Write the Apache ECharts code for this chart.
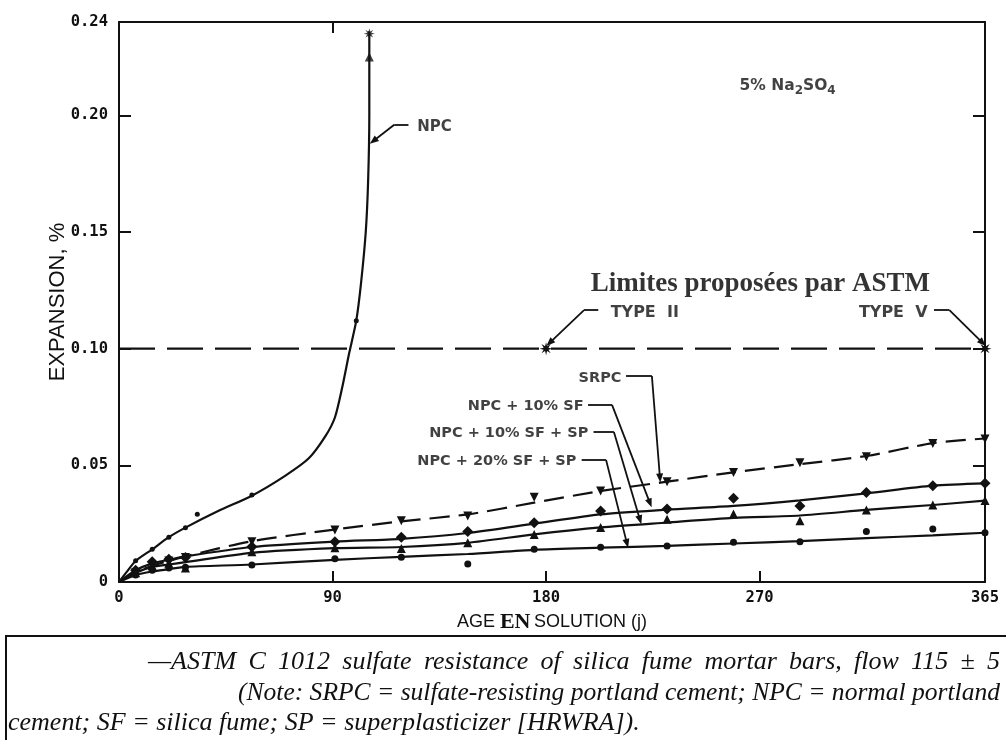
<!DOCTYPE html>
<html>
<head>
<meta charset="utf-8">
<script src="https://cdn.jsdelivr.net/npm/echarts@6/dist/echarts.min.js"></script>
<style>
  html, body { margin: 0; padding: 0; background: #ffffff; }
  #chart { width: 1006px; height: 740px; }
</style>
</head>
<body>
<div id="chart"></div>
<script>
// Age of the mortar bars in solution (days) at each reading
const days = [0, 7, 14, 21, 28, 56, 91, 119, 147, 175, 203, 231, 259, 287, 315, 343, 365];

// Measured expansion (%) at each reading
const srpcPoints      = [0, 0.004, 0.007, 0.009, 0.0105, 0.0173, 0.0223, 0.0263, 0.0283, 0.0363, 0.039, 0.043, 0.0469, 0.0511, 0.0537, 0.0594, 0.0613];
const sf10Points      = [0, 0.005, 0.0087, 0.0097, 0.0105, 0.0151, 0.0173, 0.0192, 0.0216, 0.0254, 0.0304, 0.0313, 0.0359, 0.0326, 0.0384, 0.0413, 0.0423];
const sf10SpPoints    = [0, 0.004, 0.007, 0.008, 0.006, 0.013, 0.0147, 0.0144, 0.0168, 0.0204, 0.0234, 0.0269, 0.0291, 0.0263, 0.0309, 0.033, 0.0349];
const sf20SpPoints    = [0, 0.003, 0.005, 0.006, 0.0063, 0.0073, 0.01, 0.0106, 0.0077, 0.014, 0.0149, 0.0154, 0.017, 0.0173, 0.0216, 0.0227, 0.0211];

// Trend curves drawn through each set of readings
const srpcCurve   = [0, 0.004, 0.007, 0.009, 0.011, 0.0175, 0.0225, 0.026, 0.029, 0.034, 0.039, 0.043, 0.047, 0.0505, 0.054, 0.0595, 0.0615];
const sf10Curve   = [0, 0.005, 0.008, 0.0095, 0.011, 0.015, 0.0173, 0.0185, 0.021, 0.025, 0.029, 0.031, 0.0326, 0.035, 0.038, 0.0413, 0.0423];
const sf10SpCurve = [0, 0.004, 0.0065, 0.0075, 0.0085, 0.0125, 0.0145, 0.015, 0.0168, 0.0204, 0.0234, 0.0255, 0.0275, 0.0285, 0.0309, 0.033, 0.0349];
const sf20SpCurve = [0, 0.003, 0.0045, 0.0055, 0.0065, 0.0075, 0.0095, 0.0108, 0.012, 0.0138, 0.0147, 0.0155, 0.0165, 0.0175, 0.0188, 0.02, 0.0211];

// Normal portland cement: curve and readings
const npcCurveDays = [0, 3, 7, 14, 21, 28, 42, 56, 70, 80, 87, 91, 94, 97, 100, 102, 104, 105, 105.5, 105.5];
const npcCurveVals = [0, 0.004, 0.009, 0.014, 0.0192, 0.0233, 0.0305, 0.037, 0.0455, 0.053, 0.0625, 0.0705, 0.083, 0.098, 0.112, 0.128, 0.15, 0.172, 0.2, 0.236];
const npcDotDays = [7, 14, 21, 28, 33, 56, 100];
const npcDotVals = [0.0091, 0.014, 0.0192, 0.0233, 0.0290, 0.0373, 0.112];
const npcTopDays = [105.5, 105.5];
const npcTopVals = [0.225, 0.235];

// Proposed ASTM limits (Type II at 180 d, Type V at 365 d)
const limitLevel = 0.10;
const limitDays = [180, 365];

// Axis tick labels
const xTickLabels = [0, 90, 180, 270, 365];
const yTickLabels = [0, 0.05, 0.10, 0.15, 0.20, 0.24];

const INK = '#111111';
const pairs = (xs, ys) => xs.map((x, i) => [x, ys[i]]);
const STAR = 'path://M20 10L13.7 11.53L17.07 17.07L11.53 13.7L10 20L8.47 13.7L2.93 17.07L6.3 11.53L0 10L6.3 8.47L2.93 2.93L8.47 6.3L10 0L11.53 6.3L17.07 2.93L13.7 8.47Z';

// Callouts: text anchor and leader polyline in data units (days, %)
const callouts = [
  { text: 'NPC', at: [125.5, 0.195], align: 'left', size: 15, leader: [[122, 0.196], [116, 0.196], [107.2, 0.189]] },
  { text: 'TYPE  II', at: [207, 0.1155], align: 'left', size: 16, leader: [[202, 0.1165], [196, 0.1165], [181.5, 0.1025]] },
  { text: 'TYPE  V', at: [341, 0.1155], align: 'right', size: 16, leader: [[343.5, 0.1165], [350, 0.1165], [364, 0.1025]] },
  { text: 'SRPC', at: [212, 0.0875], align: 'right', size: 14.5, leader: [[213.7, 0.0883], [224.6, 0.0883], [228, 0.0446]] },
  { text: 'NPC + 10% SF', at: [196, 0.0755], align: 'right', size: 14.5, leader: [[197.7, 0.0759], [207.8, 0.0759], [223.8, 0.0338]] },
  { text: 'NPC + 10% SF + SP', at: [198, 0.0639], align: 'right', size: 14.5, leader: [[200, 0.0643], [208.6, 0.0643], [219.6, 0.0266]] },
  { text: 'NPC + 20% SF + SP', at: [193, 0.0519], align: 'right', size: 14.5, leader: [[195, 0.0523], [205.3, 0.0523], [214.1, 0.0165]] }
];

const leaderSegments = [];
callouts.forEach(c => {
  const p = c.leader;
  for (let i = 0; i < p.length - 1; i++) {
    const last = i === p.length - 2;
    leaderSegments.push([
      { coord: p[i], symbol: 'none' },
      { coord: p[i + 1], symbol: last ? 'triangle' : 'none', symbolSize: last ? [7, 9] : 0 }
    ]);
  }
});

const tickFont = { fontFamily: 'DejaVu Sans Mono', fontWeight: 'bold', fontSize: 15.5, color: INK };

function curveSeries(name, data, dashed) {
  return {
    name, type: 'line', data, smooth: 0.25, symbol: 'none', z: 3,
    lineStyle: { color: INK, width: 2.2, type: dashed ? [20, 9] : 'solid' }
  };
}
function pointSeries(name, data, symbol, size, rotate) {
  return {
    name, type: 'scatter', data, symbol, symbolSize: size, symbolRotate: rotate || 0, z: 4,
    itemStyle: { color: INK, opacity: 1 }
  };
}

const series = [
  curveSeries('SRPC', pairs(days, srpcCurve), true),
  curveSeries('NPC + 10% SF', pairs(days, sf10Curve), false),
  curveSeries('NPC + 10% SF + SP', pairs(days, sf10SpCurve), false),
  curveSeries('NPC + 20% SF + SP', pairs(days, sf20SpCurve), false),
  {
    name: 'NPC', type: 'line', data: pairs(npcCurveDays, npcCurveVals), smooth: 0.25, symbol: 'none', z: 3,
    lineStyle: { color: INK, width: 2.2 }
  },
  pointSeries('SRPC pts', pairs(days, srpcPoints).slice(1), 'triangle', 9, 180),
  pointSeries('NPC + 10% SF pts', pairs(days, sf10Points).slice(1), 'diamond', 11),
  pointSeries('NPC + 10% SF + SP pts', pairs(days, sf10SpPoints).slice(1), 'triangle', 9),
  pointSeries('NPC + 20% SF + SP pts', pairs(days, sf20SpPoints).slice(1), 'circle', 7),
  pointSeries('NPC pts', pairs(npcDotDays, npcDotVals), 'circle', 5),
  {
    name: 'NPC top', type: 'scatter', z: 4, itemStyle: { color: INK },
    data: [
      { value: [npcTopDays[0], npcTopVals[0]], symbol: 'triangle', symbolSize: 9 },
      { value: [npcTopDays[1], npcTopVals[1]], symbol: STAR, symbolSize: 11 }
    ]
  },
  {
    name: 'Limite ASTM', type: 'line', symbol: 'none', z: 2,
    data: [[0, limitLevel], [365, limitLevel]],
    lineStyle: { color: INK, width: 2.2, type: [36, 12] },
    markLine: {
      silent: true, animation: false, symbol: 'none',
      lineStyle: { color: INK, width: 1.8, type: 'solid' },
      label: { show: false },
      data: leaderSegments
    }
  },
  pointSeries('Limites', limitDays.map(d => [d, limitLevel]), STAR, 13),
  {
    name: 'Textes', type: 'scatter', symbolSize: 1, z: 5, silent: true,
    itemStyle: { color: 'rgba(255,255,255,0)' },
    data: callouts.map(c => ({
      value: c.at,
      label: {
        show: true, formatter: c.text,
        position: c.align === 'right' ? 'left' : 'right', distance: 0,
        fontFamily: 'DejaVu Sans', fontWeight: 'bold', fontSize: c.size, color: INK, textBorderWidth: 0
      }
    })).concat([
      {
        value: [270.5, 0.1275],
        label: {
          show: true, position: [0, 0], align: 'center', verticalAlign: 'middle',
          formatter: 'Limites proposées par ASTM',
          fontFamily: 'Liberation Serif', fontWeight: 'bold', fontSize: 27, color: '#000000', textBorderWidth: 0
        }
      },
      {
        value: [282, 0.2125],
        label: {
          show: true, position: [0, 0], align: 'center', verticalAlign: 'middle',
          formatter: '{a|5% Na}{s|2}{a|SO}{s|4}',
          rich: {
            a: { fontFamily: 'DejaVu Sans', fontWeight: 'bold', fontSize: 15.5, color: INK },
            s: { fontFamily: 'DejaVu Sans', fontWeight: 'bold', fontSize: 12, color: INK, padding: [11, 0, 0, 0] }
          }
        }
      }
    ])
  }
];

const axisLine = { show: true, onZero: false, lineStyle: { color: INK, width: 2 } };
const tickStyle = { color: INK, width: 2 };

// Caption block under the chart: justified italic lines
const captionFont = 'italic 26px "Liberation Serif"';
const captionLines = [
  { text: '\u2014ASTM C 1012 sulfate resistance of silica fume mortar bars, flow 115 \u00b1 5', x0: 148, x1: 1000, y: 662 },
  { text: '(Note: SRPC = sulfate-resisting portland cement; NPC = normal portland', x0: 238, x1: 1000, y: 693 },
  { text: 'cement; SF = silica fume; SP = superplasticizer [HRWRA]).', x0: 8, x1: null, y: 723 }
];
const measureCtx = document.createElement('canvas').getContext('2d');
function captionElements(line) {
  measureCtx.font = captionFont;
  const words = line.text.split(' ');
  const widths = words.map(w => measureCtx.measureText(w).width);
  const space = measureCtx.measureText(' ').width;
  const wordsWidth = widths.reduce((a, b) => a + b, 0);
  const natural = wordsWidth + space * (words.length - 1);
  let scale = 1, gap = space;
  if (line.x1 != null) {
    const target = line.x1 - line.x0;
    if (natural > target) scale = target / natural;
    else gap = (target - wordsWidth) / (words.length - 1);
  }
  let x = line.x0;
  return words.map((w, i) => {
    const el = {
      type: 'text', silent: true, x, y: line.y, scaleX: scale,
      style: { text: w, font: captionFont, fill: INK, verticalAlign: 'middle', align: 'left' }
    };
    x += (widths[i] + gap) * scale;
    return el;
  });
}

const option = {
  animation: false,
  backgroundColor: '#ffffff',
  grid: { left: 119, right: 21, top: 22, bottom: 158, containLabel: false },
  xAxis: [
    {
      type: 'value', min: 0, max: 365, position: 'bottom',
      axisLine,
      axisTick: { show: true, inside: true, length: 11, customValues: [90, 180, 270], lineStyle: tickStyle },
      axisLabel: { customValues: xTickLabels, margin: 8, ...tickFont },
      splitLine: { show: false },
      name: '{s|AGE }{b|EN}{s|\u2009SOLUTION (j)}',
      nameLocation: 'middle', nameGap: 28,
      nameTextStyle: {
        rich: {
          s: { fontFamily: 'Liberation Sans', fontSize: 18, color: INK },
          b: { fontFamily: 'Liberation Serif', fontSize: 22, fontWeight: 'bold', color: INK }
        }
      }
    },
    {
      type: 'value', min: 0, max: 365, position: 'top',
      axisLine,
      axisTick: { show: true, inside: true, length: 11, customValues: [90], lineStyle: tickStyle },
      axisLabel: { show: false },
      splitLine: { show: false }
    }
  ],
  yAxis: [
    {
      type: 'value', min: 0, max: 0.24, position: 'left',
      axisLine,
      axisTick: { show: true, inside: true, length: 12, customValues: [0.05, 0.10, 0.15, 0.20], lineStyle: tickStyle },
      axisLabel: {
        customValues: yTickLabels, margin: 11, ...tickFont,
        formatter: v => (v === 0 ? '0' : v.toFixed(2))
      },
      splitLine: { show: false },
      name: 'EXPANSION, %', nameLocation: 'middle', nameGap: 50, nameRotate: 90,
      nameMoveOverlap: false,
      nameTextStyle: { fontFamily: 'Liberation Sans', fontSize: 22, color: INK }
    },
    {
      type: 'value', min: 0, max: 0.24, position: 'right',
      axisLine,
      axisTick: { show: true, inside: true, length: 12, customValues: [0.05, 0.10, 0.15, 0.20], lineStyle: tickStyle },
      axisLabel: { show: false },
      splitLine: { show: false }
    }
  ],
  series,
  graphic: [
    {
      type: 'rect', silent: true,
      shape: { x: 6, y: 636, width: 1010, height: 110 },
      style: { fill: '#ffffff', stroke: INK, lineWidth: 2 }
    }
  ].concat(...captionLines.map(captionElements))
};

const chart = echarts.init(document.getElementById('chart'), null, { renderer: 'canvas' });
chart.setOption(option);
</script>
</body>
</html>
